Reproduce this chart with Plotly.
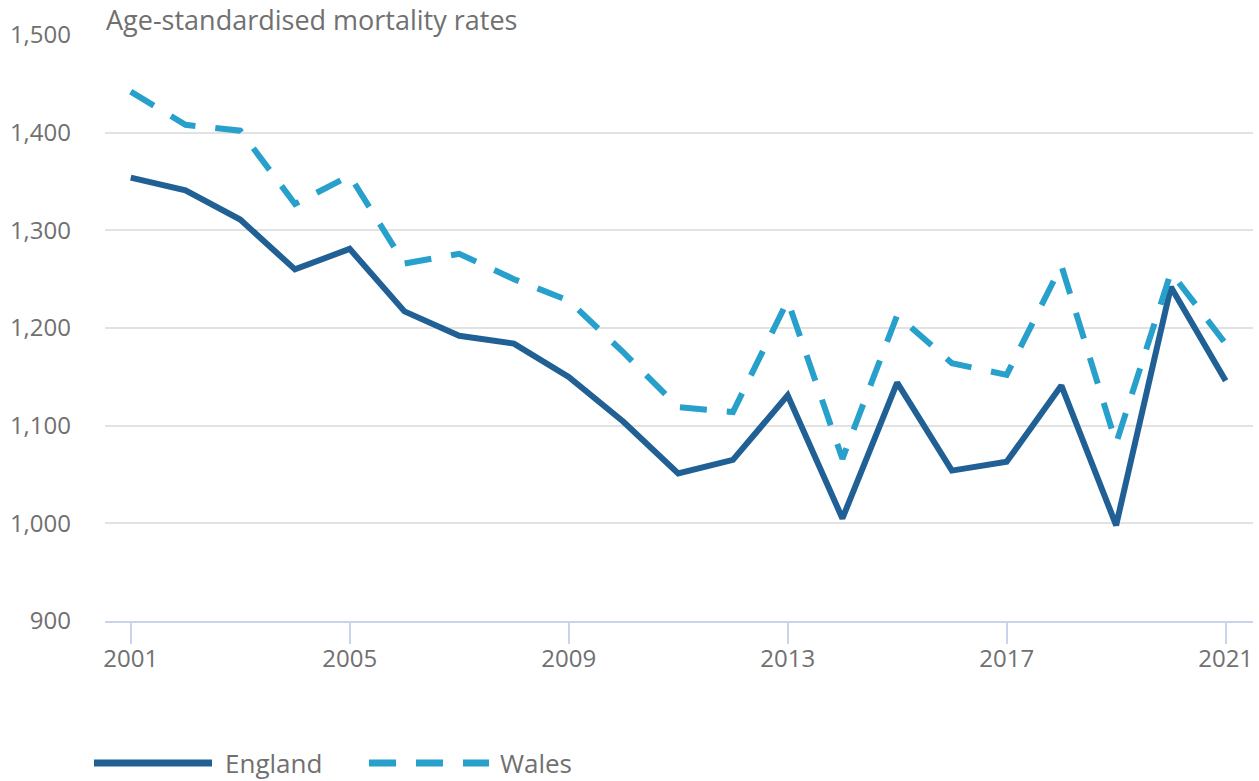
import plotly.graph_objects as go

years = list(range(2001, 2022))
england = [1354, 1341, 1311, 1260, 1281, 1217, 1192, 1184, 1150, 1104, 1051,
           1065, 1131, 1005, 1144, 1054, 1063, 1141, 998, 1242, 1146]
wales = [1442, 1408, 1402, 1327, 1356, 1266, 1276, 1250, 1228, 1175, 1119,
         1114, 1228, 1066, 1213, 1164, 1152, 1264, 1082, 1257, 1184]
y_ticks = [900, 1000, 1100, 1200, 1300, 1400, 1500]
x_ticks = [2001, 2005, 2009, 2013, 2017, 2021]

C_ENG = "#206095"
C_WAL = "#27a0cc"
TXT = "#707071"
FONT = "Open Sans"

W, H = 1259, 781
L, R, T, B = 105, 6, 35, 160
pw = W - L - R
ph = H - T - B

fig = go.Figure()
fig.add_trace(go.Scatter(x=years, y=england, mode="lines", name="England",
                         line=dict(color=C_ENG, width=6), showlegend=False))
fig.add_trace(go.Scatter(x=years, y=wales, mode="lines", name="Wales",
                         line=dict(color=C_WAL, width=6, dash="27px,20px"),
                         showlegend=False))

def px_x(p):
    return (p - L) / pw

def px_y(p):
    return (H - B - p) / ph

ly = px_y(763)
shapes = [
    dict(type="line", xref="paper", yref="paper", x0=px_x(94), x1=px_x(212),
         y0=ly, y1=ly, line=dict(color=C_ENG, width=7)),
    dict(type="line", xref="paper", yref="paper", x0=px_x(369), x1=px_x(489),
         y0=ly, y1=ly, line=dict(color=C_WAL, width=7, dash="27px,20px")),
]
annotations = [
    dict(text="Age-standardised mortality rates", xref="paper", yref="paper",
         x=0, y=1, xanchor="left", yanchor="bottom", showarrow=False,
         font=dict(family=FONT, size=27, color=TXT), xshift=-1, yshift=-5),
    dict(text="England", xref="paper", yref="paper", x=px_x(223), y=ly,
         xanchor="left", yanchor="middle", showarrow=False,
         font=dict(family=FONT, size=26, color=TXT)),
    dict(text="Wales", xref="paper", yref="paper", x=px_x(498), y=ly,
         xanchor="left", yanchor="middle", showarrow=False,
         font=dict(family=FONT, size=26, color=TXT)),
]

fig.update_layout(
    width=W, height=H,
    margin=dict(l=L, r=R, t=T, b=B, pad=0),
    paper_bgcolor="white", plot_bgcolor="white",
    font=dict(family=FONT, color=TXT, size=24),
    shapes=shapes, annotations=annotations,
    showlegend=False,
    xaxis=dict(range=[2000.53, 2021.5], tickmode="array", tickvals=x_ticks,
               ticktext=[str(v) for v in x_ticks],
               showgrid=False, zeroline=False, showline=True,
               linecolor="#c8d4ea", linewidth=2,
               ticks="outside", ticklen=21, tickwidth=2, tickcolor="#c8d4ea",
               ticklabelstandoff=-6,
               tickfont=dict(family=FONT, size=24, color=TXT)),
    yaxis=dict(range=[900, 1500], tickmode="array", tickvals=y_ticks,
               ticktext=[f"{v:,}" for v in y_ticks],
               showgrid=True, gridcolor="#e2e2e3", gridwidth=2,
               zeroline=False, showline=False, ticks="",
               ticklabelstandoff=33,
               tickfont=dict(family=FONT, size=24, color=TXT)),
)

fig.write_html("out.html", config={"displayModeBar": False},
               post_script="document.body.style.margin='0px';")
